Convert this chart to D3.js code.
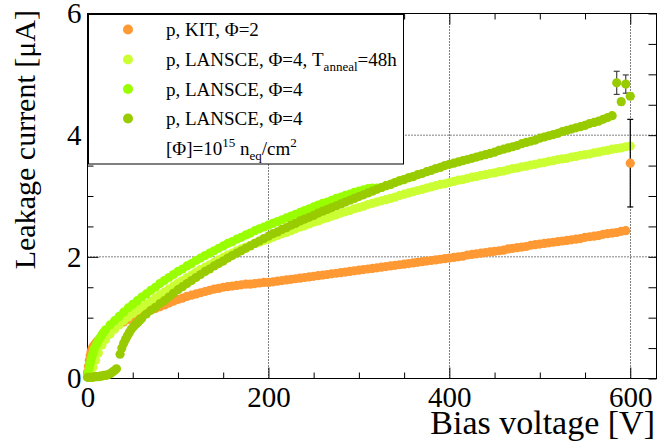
<!DOCTYPE html>
<html><head><meta charset="utf-8">
<script src="https://cdn.jsdelivr.net/npm/d3@7"></script>
<style>
html,body{margin:0;padding:0;background:#fff;}
svg{display:block;}
svg text{font-family:"Liberation Serif","Times New Roman",serif !important;}
</style></head>
<body><svg id="c" width="659" height="441"></svg>
<script>
// ---------------- data ----------------
const xTicksMajor = [0, 200, 400, 600];
const xTicksMinor = [50,100,150,250,300,350,450,500,550];
const yTicksMajor = [0, 2, 4, 6];
const yTicksMinor = [0.5,1,1.5,2.5,3,3.5,4.5,5,5.5];

const seriesNames = ["p, KIT, \u03A6=2", "p, LANSCE, \u03A6=4, T", "p, LANSCE, \u03A6=4", "p, LANSCE, \u03A6=4"];
const seriesColors = ["#ff9933", "#ccff33", "#99ff00", "#99cc00"];

// p, KIT, Phi=2  [V, I]
const kitPoints = [[0,0.10],[1,0.20],[2,0.30],[3,0.38],[4,0.44],[5,0.49],[6,0.52],[8,0.56],[10,0.60],[12,0.63],[15,0.67],[20,0.73],[25,0.79],[30,0.84],[35,0.89],[40,0.93],[45,0.97],[50,1.01],[55,1.04],[60,1.07],[65,1.10],[70,1.13],[75,1.15],[80,1.18],[85,1.21],[90,1.24],[95,1.27],[100,1.30],[105,1.32],[110,1.35],[115,1.37],[120,1.39],[125,1.41],[130,1.43],[135,1.45],[140,1.47],[145,1.48],[150,1.50],[155,1.51],[160,1.52],[165,1.53],[170,1.54],[175,1.55],[180,1.55],[185,1.56],[190,1.57],[195,1.58],[200,1.58],[205,1.59],[210,1.60],[215,1.61],[220,1.62],[225,1.63],[230,1.64],[235,1.65],[240,1.66],[245,1.67],[250,1.68],[255,1.69],[260,1.70],[265,1.71],[270,1.72],[275,1.73],[280,1.74],[285,1.75],[290,1.76],[295,1.77],[300,1.78],[305,1.79],[310,1.80],[315,1.81],[320,1.82],[325,1.83],[330,1.84],[335,1.85],[340,1.86],[345,1.87],[350,1.88],[355,1.89],[360,1.90],[365,1.91],[370,1.92],[375,1.93],[380,1.94],[385,1.95],[390,1.96],[395,1.97],[400,1.98],[405,1.99],[410,2.00],[415,2.01],[420,2.03],[425,2.04],[430,2.05],[435,2.06],[440,2.07],[445,2.08],[450,2.09],[455,2.10],[460,2.11],[465,2.13],[470,2.14],[475,2.15],[480,2.16],[485,2.17],[490,2.19],[495,2.20],[500,2.21],[505,2.22],[510,2.23],[515,2.24],[520,2.25],[525,2.26],[530,2.27],[535,2.28],[540,2.29],[545,2.30],[550,2.32],[555,2.33],[560,2.34],[565,2.35],[570,2.37],[575,2.38],[580,2.39],[585,2.40],[590,2.42],[595,2.43]];
// extra KIT point with error  [V, I, err]
const kitErrPoints = [[600,3.54,0.72]];

// p, LANSCE, Phi=4, annealed 48h
const annealPoints = [[0,0.03],[3,0.10],[6,0.18],[9,0.30],[12,0.42],[16,0.55],[20,0.64],[25,0.73],[30,0.81],[35,0.88],[40,0.95],[45,1.01],[50,1.07],[55,1.12],[60,1.17],[65,1.22],[70,1.27],[75,1.32],[80,1.37],[85,1.42],[90,1.47],[95,1.52],[100,1.57],[105,1.61],[110,1.66],[115,1.70],[120,1.75],[125,1.79],[130,1.83],[135,1.87],[140,1.91],[145,1.95],[150,1.99],[155,2.03],[160,2.06],[165,2.10],[170,2.13],[175,2.16],[180,2.19],[185,2.22],[190,2.24],[195,2.27],[200,2.29],[205,2.32],[210,2.35],[215,2.38],[220,2.40],[225,2.43],[230,2.46],[235,2.49],[240,2.51],[245,2.54],[250,2.57],[255,2.59],[260,2.62],[265,2.64],[270,2.67],[275,2.69],[280,2.72],[285,2.74],[290,2.76],[295,2.79],[300,2.81],[305,2.83],[310,2.86],[315,2.88],[320,2.90],[325,2.92],[330,2.94],[335,2.96],[340,2.98],[345,3.01],[350,3.03],[355,3.05],[360,3.07],[365,3.09],[370,3.11],[375,3.13],[380,3.15],[385,3.17],[390,3.19],[395,3.20],[400,3.22],[405,3.24],[410,3.26],[415,3.27],[420,3.29],[425,3.31],[430,3.32],[435,3.34],[440,3.35],[445,3.37],[450,3.38],[455,3.40],[460,3.41],[465,3.43],[470,3.45],[475,3.46],[480,3.48],[485,3.49],[490,3.51],[495,3.52],[500,3.54],[505,3.55],[510,3.57],[515,3.58],[520,3.60],[525,3.61],[530,3.62],[535,3.64],[540,3.65],[545,3.67],[550,3.68],[555,3.69],[560,3.71],[565,3.72],[570,3.74],[575,3.75],[580,3.77],[585,3.78],[590,3.79],[595,3.81],[600,3.82]];

// p, LANSCE, Phi=4 (bright green)
const lansceAPoints = [[0,0.03],[1,0.10],[2,0.18],[3,0.25],[4,0.31],[5,0.36],[6,0.41],[7,0.46],[8,0.50],[10,0.56],[12,0.62],[14,0.67],[16,0.72],[18,0.76],[20,0.80],[25,0.88],[30,0.95],[35,1.02],[40,1.09],[45,1.16],[50,1.22],[55,1.28],[60,1.34],[65,1.39],[70,1.45],[75,1.50],[80,1.56],[85,1.61],[90,1.66],[95,1.71],[100,1.76],[105,1.80],[110,1.85],[115,1.89],[120,1.94],[125,1.98],[130,2.02],[135,2.06],[140,2.10],[145,2.14],[150,2.18],[155,2.22],[160,2.25],[165,2.29],[170,2.32],[175,2.36],[180,2.39],[185,2.43],[190,2.46],[195,2.49],[200,2.52],[205,2.55],[210,2.58],[215,2.61],[220,2.64],[225,2.67],[230,2.70],[235,2.73],[240,2.76],[245,2.79],[250,2.82],[255,2.85],[260,2.88],[265,2.90],[270,2.93],[275,2.96],[280,2.98],[285,3.01],[290,3.03],[295,3.06],[300,3.08],[305,3.10],[310,3.12],[315,3.13],[320,3.13],[325,3.14],[330,3.17],[335,3.19],[340,3.22],[345,3.25],[350,3.27],[355,3.30],[360,3.32]];

// p, LANSCE, Phi=4 (olive)
const lansceBPoints = [[0,0.02],[2,0.02],[4,0.02],[6,0.02],[8,0.03],[10,0.03],[12,0.03],[14,0.04],[16,0.04],[18,0.05],[20,0.05],[22,0.06],[24,0.07],[26,0.09],[28,0.11],[30,0.13],[32,0.16],[36,0.40],[38,0.50],[40,0.58],[42,0.64],[44,0.70],[46,0.75],[48,0.80],[50,0.84],[52,0.87],[54,0.90],[56,0.93],[58,0.96],[60,0.99],[65,1.06],[70,1.12],[75,1.17],[80,1.23],[85,1.28],[90,1.34],[95,1.40],[100,1.46],[105,1.51],[110,1.56],[115,1.61],[120,1.66],[125,1.71],[130,1.76],[135,1.80],[140,1.85],[145,1.89],[150,1.93],[155,1.98],[160,2.02],[165,2.06],[170,2.10],[175,2.14],[180,2.18],[185,2.22],[190,2.26],[195,2.30],[200,2.34],[205,2.38],[210,2.41],[215,2.45],[220,2.48],[225,2.52],[230,2.55],[235,2.59],[240,2.62],[245,2.65],[250,2.68],[255,2.72],[260,2.75],[265,2.78],[270,2.81],[275,2.84],[280,2.87],[285,2.90],[290,2.93],[295,2.96],[300,2.99],[305,3.02],[310,3.05],[315,3.08],[320,3.11],[325,3.14],[330,3.17],[335,3.19],[340,3.22],[345,3.25],[350,3.27],[355,3.30],[360,3.32],[365,3.35],[370,3.37],[375,3.40],[380,3.42],[385,3.45],[390,3.47],[395,3.50],[400,3.52],[405,3.54],[410,3.56],[415,3.58],[420,3.60],[425,3.62],[430,3.64],[435,3.66],[440,3.68],[445,3.70],[450,3.72],[455,3.75],[460,3.77],[465,3.79],[470,3.81],[475,3.83],[480,3.86],[485,3.88],[490,3.90],[495,3.92],[500,3.95],[505,3.97],[510,3.99],[515,4.01],[520,4.03],[525,4.06],[530,4.08],[535,4.10],[540,4.12],[545,4.14],[550,4.16],[555,4.19],[560,4.21],[565,4.23],[570,4.26],[575,4.29],[580,4.32]];
// olive points with errors [V, I, err]
const lansceBErrPoints = [[585,4.86,0.19],[595,4.84,0.15],[590,4.55,0.05],[600,4.64,0.05]];

// ---------------- drawing ----------------
const svg = d3.select("#c");
const FONT = '"Liberation Serif","Times New Roman",serif';
const x = d3.scaleLinear().domain([0, 629]).range([87.5, 656.5]);
const y = d3.scaleLinear().domain([0, 6]).range([378.5, 13.5]);
const X0 = x.range()[0], X1 = x.range()[1], Y0 = y.range()[0], Y1 = y.range()[1];

svg.append("rect").attr("width",659).attr("height",441).attr("fill","#fff");

// grid
const grid = svg.append("g").attr("stroke","#000").attr("stroke-width",1).attr("stroke-dasharray","1,2");
grid.selectAll("line.gx").data(xTicksMajor.filter(d=>d>0)).join("line")
  .attr("x1",d=>Math.round(x(d))+0.5).attr("x2",d=>Math.round(x(d))+0.5).attr("y1",Y0).attr("y2",Y1);
grid.selectAll("line.gy").data(yTicksMajor.filter(d=>d>0&&d<6)).join("line")
  .attr("y1",d=>y(d)).attr("y2",d=>y(d)).attr("x1",X0).attr("x2",X1);

// axes
function styleAxis(g){ g.select(".domain").remove(); g.selectAll(".tick line").attr("stroke","#000"); }
function styleLabels(g){ g.attr("font-family",null).attr("font-size",null);
  g.selectAll("text").style("font-family",FONT).style("font-size","29px").attr("fill","#000"); }
const axB = svg.append("g").attr("transform",`translate(0,${Y0})`)
  .call(d3.axisBottom(x).tickValues(xTicksMajor).tickSize(-11).tickPadding(8).tickFormat(d3.format("d")));
styleAxis(axB); styleLabels(axB);
svg.append("g").attr("transform",`translate(0,${Y0})`)
  .call(d3.axisBottom(x).tickValues(xTicksMinor).tickSize(-6).tickFormat("")).call(styleAxis);
svg.append("g").attr("transform",`translate(0,${Y1})`)
  .call(d3.axisTop(x).tickValues(xTicksMajor).tickSize(-11).tickFormat("")).call(styleAxis);
svg.append("g").attr("transform",`translate(0,${Y1})`)
  .call(d3.axisTop(x).tickValues(xTicksMinor).tickSize(-6).tickFormat("")).call(styleAxis);

const axL = svg.append("g").attr("transform",`translate(${X0},0)`)
  .call(d3.axisLeft(y).tickValues(yTicksMajor).tickSize(-11).tickPadding(6).tickFormat(d3.format("d")));
styleAxis(axL); styleLabels(axL);
svg.append("g").attr("transform",`translate(${X0},0)`)
  .call(d3.axisLeft(y).tickValues(yTicksMinor).tickSize(-6).tickFormat("")).call(styleAxis);
svg.append("g").attr("transform",`translate(${X1},0)`)
  .call(d3.axisRight(y).tickValues(yTicksMajor).tickSize(-8).tickFormat("")).call(styleAxis);
svg.append("g").attr("transform",`translate(${X1},0)`)
  .call(d3.axisRight(y).tickValues(yTicksMinor).tickSize(-8).tickFormat("")).call(styleAxis);

// frame
svg.append("rect").attr("x",X0).attr("y",Y1).attr("width",X1-X0).attr("height",Y0-Y1)
  .attr("fill","none").attr("stroke","#000").attr("stroke-width",1);

// axis titles
svg.append("text").attr("x",655).attr("y",434).attr("text-anchor","end")
  .style("font-size","34px").text("Bias voltage [V]");
svg.append("text").attr("transform","translate(35,10) rotate(-90)").attr("text-anchor","end")
  .style("font-size","30px").text("Leakage current [\u03BCA]");

// data
const R = 4.6;
function drawSeries(pts, color){
  svg.append("g").selectAll("circle").data(pts).join("circle")
    .attr("cx",d=>x(d[0])).attr("cy",d=>y(d[1])).attr("r",R).attr("fill",color);
}
function drawErr(pts, color, barColor){
  const g = svg.append("g");
  g.selectAll("line.v").data(pts).join("line")
    .attr("x1",d=>x(d[0])).attr("x2",d=>x(d[0])).attr("y1",d=>y(d[1]-d[2])).attr("y2",d=>y(d[1]+d[2]))
    .attr("stroke",barColor).attr("stroke-width",1.2);
  g.selectAll("line.t").data(pts).join("line")
    .attr("x1",d=>x(d[0])-3).attr("x2",d=>x(d[0])+3).attr("y1",d=>y(d[1]+d[2])).attr("y2",d=>y(d[1]+d[2]))
    .attr("stroke",barColor).attr("stroke-width",1.2);
  g.selectAll("line.b").data(pts).join("line")
    .attr("x1",d=>x(d[0])-3).attr("x2",d=>x(d[0])+3).attr("y1",d=>y(d[1]-d[2])).attr("y2",d=>y(d[1]-d[2]))
    .attr("stroke",barColor).attr("stroke-width",1.2);
  g.selectAll("circle").data(pts).join("circle")
    .attr("cx",d=>x(d[0])).attr("cy",d=>y(d[1])).attr("r",R).attr("fill",color);
}
drawSeries(kitPoints, seriesColors[0]);
drawSeries(annealPoints, seriesColors[1]);
drawSeries(lansceAPoints, seriesColors[2]);
drawSeries(lansceBPoints, seriesColors[3]);
drawErr(lansceBErrPoints, seriesColors[3], "#444");
drawErr(kitErrPoints, seriesColors[0], "#000");

// legend
const lg = svg.append("g");
lg.append("rect").attr("x",88.5).attr("y",14.5).attr("width",315).attr("height",149.5)
  .attr("fill","#fff").attr("stroke","#000").attr("stroke-width",1);
const rowsY = [29.5, 59.5, 89, 118.5];
lg.selectAll("circle").data(seriesColors).join("circle")
  .attr("cx",128).attr("cy",(d,i)=>rowsY[i]).attr("r",5).attr("fill",d=>d);
const lt = lg.selectAll("text.e").data(seriesNames).join("text")
  .attr("x",166).attr("y",(d,i)=>rowsY[i]+6.5)
  .style("font-size","19px").attr("fill","#000");
lt.each(function(d,i){
  const t = d3.select(this);
  if(i===1){
    t.append("tspan").text(d);
    t.append("tspan").style("font-size","13px").attr("dy",5).text("anneal");
    t.append("tspan").attr("dy",-5).text("=48h");
  } else t.text(d);
});
const last = lg.append("text").attr("x",166).attr("y",148.5+6.5)
  .style("font-size","19px").attr("fill","#000");
last.append("tspan").text("[\u03A6]=10");
last.append("tspan").style("font-size","13px").attr("dy",-8).text("15");
last.append("tspan").attr("dy",8).text(" n");
last.append("tspan").style("font-size","13px").attr("dy",5).text("eq");
last.append("tspan").attr("dy",-5).text("/cm");
last.append("tspan").style("font-size","13px").attr("dy",-8).text("2");
</script></body></html>
